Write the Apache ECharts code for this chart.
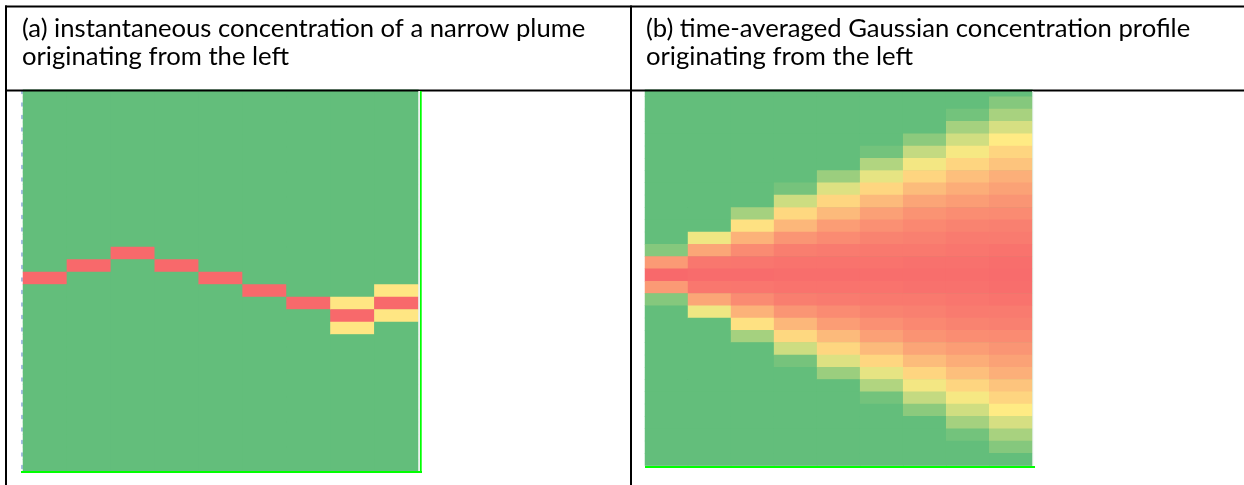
<!DOCTYPE html>
<html><head><meta charset="utf-8">
<script src="https://cdn.jsdelivr.net/npm/echarts@6/dist/echarts.min.js"></script>
<style>html,body{margin:0;padding:0;background:#fff;}#c{width:1244px;height:485px;}</style>
</head><body><div id="c"></div>
<script>
// ---- text ----
const titleA = ['(a) instantaneous concentration of a narrow plume', 'originating from the left'];
const titleB = ['(b) time-averaged Gaussian concentration profile', 'originating from the left'];

// ---- axes (no visible tick labels) ----
const columns = ['1','2','3','4','5','6','7','8','9'];
const rows = ['0','1','2','3','4','5','6','7','8','9','10','11','12','13','14','15','16','17','18','19','20','21','22','23','24','25','26','27','28','29','30'];

// ---- panel (a): instantaneous narrow plume ----
const plumeCoreRow = [15,14,13,14,15,16,17,18,17];
const plumeEdgeRows = [[],[],[],[],[],[],[],[17,19],[16,18]];
const plumeCoreValue = 1.0;
const plumeEdgeValue = 0.52;

// ---- panel (b): time-averaged Gaussian profile, one array per column (rows top->bottom) ----
const gauss0 = [0,0,0,0,0,0,0,0,0,0,0,0,0,0.11,0.81,1.00,0.81,0.11,0,0,0,0,0,0,0,0,0,0,0,0,0];
const gauss1 = [0,0,0,0,0,0,0,0,0,0,0,0,0.45,0.765,0.945,0.99,0.945,0.765,0.45,0,0,0,0,0,0,0,0,0,0,0,0];
const gauss2 = [0,0,0,0,0,0,0,0,0,0,0.21,0.54,0.72,0.87,0.95,0.99,0.95,0.87,0.72,0.54,0.21,0,0,0,0,0,0,0,0,0,0];
const gauss3 = [0,0,0,0,0,0,0,0,0.06,0.34,0.575,0.70,0.83,0.92,0.96,0.98,0.96,0.92,0.83,0.70,0.575,0.34,0.06,0,0,0,0,0,0,0,0];
const gauss4 = [0,0,0,0,0,0,0,0.18,0.39,0.58,0.69,0.80,0.87,0.93,0.96,0.98,0.96,0.93,0.87,0.80,0.69,0.58,0.39,0.18,0,0,0,0,0,0,0];
const gauss5 = [0,0,0,0,0,0.05,0.25,0.42,0.58,0.69,0.79,0.85,0.90,0.94,0.96,0.98,0.96,0.94,0.90,0.85,0.79,0.69,0.58,0.42,0.25,0.05,0,0,0,0,0];
const gauss6 = [0,0,0,0,0.13,0.31,0.46,0.585,0.68,0.77,0.84,0.88,0.91,0.94,0.97,0.98,0.97,0.94,0.91,0.88,0.84,0.77,0.68,0.585,0.46,0.31,0.13,0,0,0,0];
const gauss7 = [0,0,0.05,0.21,0.35,0.47,0.585,0.67,0.74,0.80,0.86,0.90,0.93,0.95,0.97,0.98,0.97,0.95,0.93,0.90,0.86,0.80,0.74,0.67,0.585,0.47,0.35,0.21,0.05,0,0];
const gauss8 = [0,0.11,0.22,0.37,0.50,0.585,0.65,0.73,0.78,0.83,0.87,0.91,0.93,0.96,0.98,0.99,0.98,0.96,0.93,0.91,0.87,0.83,0.78,0.73,0.65,0.585,0.50,0.37,0.22,0.11,0];
const gaussColumns = [gauss0,gauss1,gauss2,gauss3,gauss4,gauss5,gauss6,gauss7,gauss8];

// ---- colour scale (Excel green-yellow-red) ----
const scaleColors = ['#63BE7B', '#FFEB84', '#F8696B'];

// ---- build series data ----
const dataA = [];
columns.forEach((c, ci) => {
  rows.forEach((r, ri) => {
    let v = 0;
    if (plumeCoreRow[ci] === ri) v = plumeCoreValue;
    else if (plumeEdgeRows[ci].indexOf(ri) >= 0) v = plumeEdgeValue;
    dataA.push([ci, ri, v]);
  });
});
const dataB = [];
gaussColumns.forEach((col, ci) => col.forEach((v, ri) => dataB.push([ci, ri, v])));

// ---- font fitting ----
const FAMILY = 'Lato';
function widthAt100(t) {
  const ctx = document.createElement('canvas').getContext('2d');
  ctx.font = '100px ' + FAMILY;
  return ctx.measureText(t).width;
}
const fs = ((564 / widthAt100(titleA[0])) * 100 + (544 / widthAt100(titleB[0])) * 100) / 2;
const font = fs.toFixed(2) + 'px ' + FAMILY;

function txt(t, x, baseline) {
  return { type: 'text', z: 120, silent: true,
    style: { text: t, x: x, y: baseline - 0.3 * fs, font: font, fill: '#000', verticalAlign: 'middle', align: 'left' } };
}
function box(x, y, w, h, color, z) {
  return { type: 'rect', z: z === undefined ? 110 : z, silent: true, shape: { x: x, y: y, width: w, height: h }, style: { fill: color } };
}

const hiddenAxis = { axisLine: { show: false }, axisTick: { show: false }, axisLabel: { show: false }, splitLine: { show: false } };

const chart = echarts.init(document.getElementById('c'), null, { renderer: 'canvas' });
chart.setOption({
  animation: false,
  backgroundColor: '#fff',
  grid: [
    { left: 23, top: 84.5, width: 395.3, height: 387.5 },
    { left: 645, top: 84.5, width: 387.3, height: 381 }
  ],
  xAxis: [
    Object.assign({ type: 'category', data: columns, gridIndex: 0 }, hiddenAxis),
    Object.assign({ type: 'category', data: columns, gridIndex: 1 }, hiddenAxis)
  ],
  yAxis: [
    { type: 'category', data: rows, gridIndex: 0, inverse: true, offset: 1,
      axisLine: { show: true, lineStyle: { color: '#5f86cc', width: 1.5, type: [3, 9.5], dashOffset: 6.5, opacity: 0.75 } },
      axisTick: { show: false }, axisLabel: { show: false }, splitLine: { show: false } },
    Object.assign({ type: 'category', data: rows, gridIndex: 1, inverse: true }, hiddenAxis)
  ],
  visualMap: {
    type: 'continuous', show: false, min: 0, max: 1, seriesIndex: [0, 1],
    inRange: { color: scaleColors }
  },
  series: [
    { type: 'heatmap', xAxisIndex: 0, yAxisIndex: 0, data: dataA, itemStyle: { borderWidth: 0 }, emphasis: { disabled: true }, silent: true },
    { type: 'heatmap', xAxisIndex: 1, yAxisIndex: 1, data: dataB, itemStyle: { borderWidth: 0 }, emphasis: { disabled: true }, silent: true }
  ],
  graphic: { elements: [
    // underlays so anti-aliased cell seams do not show white
    box(23, 84.5, 395.3, 387.5, '#63BE7B', -1),
    box(645, 84.5, 387.3, 381, '#63BE7B', -1),
    box(0, 0, 1244, 89.5, '#fff', 100),
    box(5, 5.5, 1239, 2, '#000'),
    box(5, 5.5, 2, 480, '#000'),
    box(630, 5.5, 2, 480, '#000'),
    box(5, 89.5, 1239, 2, '#000'),
    box(21, 471, 401, 2, '#00FF00'),
    box(420, 91, 1.7, 382, '#00FF00'),
    box(418.3, 91, 1.7, 380, '#EEF3EF'),
    box(645, 466, 390, 2, '#00FF00'),
    box(1032.3, 91, 1, 375, '#E3F0E6'),
    txt(titleA[0], 22, 36), txt(titleA[1], 22, 64),
    txt(titleB[0], 646, 36), txt(titleB[1], 646, 64)
  ] }
});
</script>
</body></html>
